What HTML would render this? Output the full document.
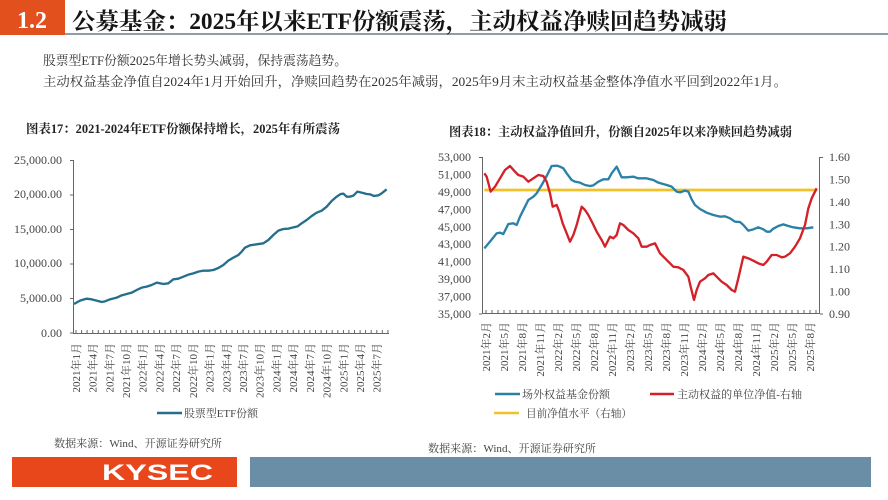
<!DOCTYPE html>
<html><head><meta charset="utf-8"><style>
html,body{margin:0;padding:0;background:#fff;}
svg{display:block;}
.s{font-family:"Liberation Serif","Noto Serif CJK SC",serif;}
</style></head><body>
<svg width="888" height="500" viewBox="0 0 888 500" xmlns="http://www.w3.org/2000/svg" class="s">
<rect x="0" y="0" width="888" height="500" fill="#fff"/>
<!-- header -->
<rect x="0" y="0" width="65" height="35" fill="#e2501e"/>
<text x="17" y="28" font-size="24" font-weight="bold" fill="#fff">1.2</text>
<rect x="65" y="33" width="823" height="2" fill="#8e9ea8"/>
<text x="72" y="29" font-size="23" font-weight="bold" fill="#151515" textLength="655" lengthAdjust="spacingAndGlyphs">公募基金：2025年以来ETF份额震荡，主动权益净赎回趋势减弱</text>
<text x="43" y="65" font-size="13" fill="#333" textLength="304" lengthAdjust="spacingAndGlyphs">股票型ETF份额2025年增长势头减弱，保持震荡趋势。</text>
<text x="43" y="86" font-size="13" fill="#333" textLength="744" lengthAdjust="spacingAndGlyphs">主动权益基金净值自2024年1月开始回升，净赎回趋势在2025年减弱，2025年9月末主动权益基金整体净值水平回到2022年1月。</text>
<text x="26" y="133" font-size="12.3" font-weight="bold" fill="#222" textLength="314" lengthAdjust="spacingAndGlyphs">图表17：2021-2024年ETF份额保持增长，2025年有所震荡</text>
<text x="449" y="136" font-size="12.3" font-weight="bold" fill="#222" textLength="343" lengthAdjust="spacingAndGlyphs">图表18：主动权益净值回升，份额自2025年以来净赎回趋势减弱</text>

<!-- LEFT CHART -->
<g font-size="12" fill="#444" text-anchor="end">
<text x="62" y="164">25,000.00</text>
<text x="62" y="198">20,000.00</text>
<text x="62" y="233">15,000.00</text>
<text x="62" y="267">10,000.00</text>
<text x="62" y="302">5,000.00</text>
<text x="62" y="337">0.00</text>
</g>
<g stroke="#666" stroke-width="1" fill="none">
<path d="M73.5 160 V333.5 H389"/>
<path d="M70 160.5H73 M70 195H73 M70 229.5H73 M70 264H73 M70 298.5H73 M70 333H73"/>
<path id="lt" d="M76 333v-3 M81.6 333v-3 M87.1 333v-3 M92.7 333v-3 M98.3 333v-3 M103.8 333v-3 M109.4 333v-3 M115 333v-3 M120.6 333v-3 M126.1 333v-3 M131.7 333v-3 M137.3 333v-3 M142.8 333v-3 M148.4 333v-3 M154 333v-3 M159.5 333v-3 M165.1 333v-3 M170.7 333v-3 M176.3 333v-3 M181.8 333v-3 M187.4 333v-3 M193 333v-3 M198.5 333v-3 M204.1 333v-3 M209.7 333v-3 M215.2 333v-3 M220.8 333v-3 M226.4 333v-3 M232 333v-3 M237.5 333v-3 M243.1 333v-3 M248.7 333v-3 M254.2 333v-3 M259.8 333v-3 M265.4 333v-3 M270.9 333v-3 M276.5 333v-3 M282.1 333v-3 M287.7 333v-3 M293.2 333v-3 M298.8 333v-3 M304.4 333v-3 M309.9 333v-3 M315.5 333v-3 M321.1 333v-3 M326.6 333v-3 M332.2 333v-3 M337.8 333v-3 M343.4 333v-3 M348.9 333v-3 M354.5 333v-3 M360.1 333v-3 M365.6 333v-3 M371.2 333v-3 M376.8 333v-3 M382.3 333v-3 M387.9 333v-3"/>
</g>
<g transform="translate(0,140) scale(0.33333)">
<polyline fill="none" stroke="#256f8d" stroke-width="7" stroke-linejoin="round" points="222,492 240,482 260,476 275,478 290,482 305,486 315,484 330,478 350,473 365,466 380,462 395,458 410,450 425,443 440,440 455,435 470,428 490,432 505,430 520,418 535,416 550,410 565,404 580,400 595,395 610,392 625,392 640,390 655,384 670,375 685,362 700,353 715,345 725,335 735,323 750,316 770,313 790,310 805,300 820,285 835,272 850,267 865,266 880,262 893,259 905,250 920,240 935,228 950,218 965,212 980,200 995,183 1010,170 1022,162 1030,161 1040,170 1050,170 1060,167 1072,155 1085,158 1100,162 1110,163 1122,168 1135,166 1145,160 1160,148"/>
</g>
<g font-size="11" fill="#444" text-anchor="end">
<text transform="translate(76,343) rotate(-90)" dy="0.35em">2021年1月</text>
<text transform="translate(92.7,343) rotate(-90)" dy="0.35em">2021年4月</text>
<text transform="translate(109.4,343) rotate(-90)" dy="0.35em">2021年7月</text>
<text transform="translate(126.1,343) rotate(-90)" dy="0.35em">2021年10月</text>
<text transform="translate(142.8,343) rotate(-90)" dy="0.35em">2022年1月</text>
<text transform="translate(159.5,343) rotate(-90)" dy="0.35em">2022年4月</text>
<text transform="translate(176.3,343) rotate(-90)" dy="0.35em">2022年7月</text>
<text transform="translate(193,343) rotate(-90)" dy="0.35em">2022年10月</text>
<text transform="translate(209.7,343) rotate(-90)" dy="0.35em">2023年1月</text>
<text transform="translate(226.4,343) rotate(-90)" dy="0.35em">2023年4月</text>
<text transform="translate(243.1,343) rotate(-90)" dy="0.35em">2023年7月</text>
<text transform="translate(259.8,343) rotate(-90)" dy="0.35em">2023年10月</text>
<text transform="translate(276.5,343) rotate(-90)" dy="0.35em">2024年1月</text>
<text transform="translate(293.2,343) rotate(-90)" dy="0.35em">2024年4月</text>
<text transform="translate(309.9,343) rotate(-90)" dy="0.35em">2024年7月</text>
<text transform="translate(326.6,343) rotate(-90)" dy="0.35em">2024年10月</text>
<text transform="translate(343.4,343) rotate(-90)" dy="0.35em">2025年1月</text>
<text transform="translate(360.1,343) rotate(-90)" dy="0.35em">2025年4月</text>
<text transform="translate(376.8,343) rotate(-90)" dy="0.35em">2025年7月</text>
</g>
<line x1="157" y1="413" x2="182" y2="413" stroke="#256f8d" stroke-width="2.5"/>
<text x="184" y="417" font-size="11" fill="#444" textLength="74" lengthAdjust="spacingAndGlyphs">股票型ETF份额</text>
<text x="54" y="447" font-size="11" fill="#444" textLength="168" lengthAdjust="spacingAndGlyphs">数据来源：Wind、开源证券研究所</text>

<!-- RIGHT CHART -->
<g font-size="12" fill="#444" text-anchor="end">
<text x="471" y="161">53,000</text>
<text x="471" y="178.4">51,000</text>
<text x="471" y="195.9">49,000</text>
<text x="471" y="213.3">47,000</text>
<text x="471" y="230.8">45,000</text>
<text x="471" y="248.2">43,000</text>
<text x="471" y="265.7">41,000</text>
<text x="471" y="283.1">39,000</text>
<text x="471" y="300.6">37,000</text>
<text x="471" y="318">35,000</text>
</g>
<g font-size="12" fill="#444">
<text x="829" y="161">1.60</text>
<text x="829" y="183.4">1.50</text>
<text x="829" y="205.9">1.40</text>
<text x="829" y="228.3">1.30</text>
<text x="829" y="250.7">1.20</text>
<text x="829" y="273.1">1.10</text>
<text x="829" y="295.6">1.00</text>
<text x="829" y="318">0.90</text>
</g>
<g stroke="#666" stroke-width="1" fill="none">
<path d="M482.5 157 V313.5 H819.5 V157"/>
<path d="M479 157.5H482 M479 314H482 M820 157.5H823 M820 314H823"/>
<path d="M486 313v-3 M492 313v-3 M498 313v-3 M504 313v-3 M510 313v-3 M516 313v-3 M522 313v-3 M528 313v-3 M534 313v-3 M540 313v-3 M546 313v-3 M552 313v-3 M558 313v-3 M564 313v-3 M570 313v-3 M576 313v-3 M582 313v-3 M588 313v-3 M594 313v-3 M600 313v-3 M606 313v-3 M612 313v-3 M618 313v-3 M624 313v-3 M630 313v-3 M636 313v-3 M642 313v-3 M648 313v-3 M654 313v-3 M660 313v-3 M666 313v-3 M672 313v-3 M678 313v-3 M684 313v-3 M690 313v-3 M696 313v-3 M702 313v-3 M708 313v-3 M714 313v-3 M720 313v-3 M726 313v-3 M732 313v-3 M738 313v-3 M744 313v-3 M750 313v-3 M756 313v-3 M762 313v-3 M768 313v-3 M774 313v-3 M780 313v-3 M786 313v-3 M792 313v-3 M798 313v-3 M804 313v-3 M810 313v-3 M816 313v-3"/>
</g>
<g transform="translate(420,140) scale(0.33333)" fill="none" stroke-linejoin="round">
<line x1="193" y1="150" x2="1192" y2="150" stroke="#f0c22a" stroke-width="8"/>
<polyline stroke="#2a80a6" stroke-width="7" points="193,325 210,305 230,280 240,278 250,282 265,252 280,250 290,255 300,230 315,200 325,180 340,170 350,160 365,135 380,108 395,78 410,77 420,80 430,85 440,100 455,120 465,125 480,128 495,135 510,138 520,136 535,125 550,118 565,118 575,100 590,80 605,112 620,112 640,110 655,115 680,115 700,120 715,128 740,135 755,140 770,155 780,157 795,152 805,155 815,178 825,195 840,207 860,218 880,225 900,230 915,229 930,235 945,245 960,246 970,255 985,272 1000,268 1015,262 1030,268 1040,275 1050,275 1060,266 1075,258 1090,253 1105,258 1120,262 1140,265 1160,265 1180,262"/>
<polyline stroke="#d42028" stroke-width="7" points="193,100 200,110 212,155 225,140 240,115 255,90 270,78 285,95 295,105 310,110 325,125 340,115 355,105 370,108 380,125 390,160 398,200 410,195 418,215 428,250 440,280 450,305 460,285 470,255 485,200 495,210 505,225 518,250 530,275 545,300 555,320 570,290 580,295 590,285 600,250 610,255 625,270 640,280 655,295 665,320 680,320 690,315 705,310 720,340 735,355 750,370 760,380 775,382 790,390 805,410 812,440 822,480 830,450 840,425 855,415 865,405 880,400 890,410 905,425 920,435 935,450 945,455 955,415 970,350 985,355 1000,362 1015,370 1030,375 1040,365 1055,345 1070,345 1085,352 1095,350 1110,340 1125,320 1140,295 1155,255 1165,205 1175,175 1190,145"/>
</g>
<g font-size="11" fill="#444" text-anchor="end">
<text transform="translate(486,322) rotate(-90)" dy="0.35em">2021年2月</text>
<text transform="translate(504,322) rotate(-90)" dy="0.35em">2021年5月</text>
<text transform="translate(522,322) rotate(-90)" dy="0.35em">2021年8月</text>
<text transform="translate(540,322) rotate(-90)" dy="0.35em">2021年11月</text>
<text transform="translate(558,322) rotate(-90)" dy="0.35em">2022年2月</text>
<text transform="translate(576,322) rotate(-90)" dy="0.35em">2022年5月</text>
<text transform="translate(594,322) rotate(-90)" dy="0.35em">2022年8月</text>
<text transform="translate(612,322) rotate(-90)" dy="0.35em">2022年11月</text>
<text transform="translate(630,322) rotate(-90)" dy="0.35em">2023年2月</text>
<text transform="translate(648,322) rotate(-90)" dy="0.35em">2023年5月</text>
<text transform="translate(666,322) rotate(-90)" dy="0.35em">2023年8月</text>
<text transform="translate(684,322) rotate(-90)" dy="0.35em">2023年11月</text>
<text transform="translate(702,322) rotate(-90)" dy="0.35em">2024年2月</text>
<text transform="translate(720,322) rotate(-90)" dy="0.35em">2024年5月</text>
<text transform="translate(738,322) rotate(-90)" dy="0.35em">2024年8月</text>
<text transform="translate(756,322) rotate(-90)" dy="0.35em">2024年11月</text>
<text transform="translate(774,322) rotate(-90)" dy="0.35em">2025年2月</text>
<text transform="translate(792,322) rotate(-90)" dy="0.35em">2025年5月</text>
<text transform="translate(810,322) rotate(-90)" dy="0.35em">2025年8月</text>
</g>
<line x1="495" y1="394" x2="520" y2="394" stroke="#2a80a6" stroke-width="2.5"/>
<text x="522" y="398" font-size="11" fill="#444" textLength="88" lengthAdjust="spacingAndGlyphs">场外权益基金份额</text>
<line x1="650" y1="394" x2="674" y2="394" stroke="#d42028" stroke-width="2.5"/>
<text x="677" y="398" font-size="11" fill="#444" textLength="125" lengthAdjust="spacingAndGlyphs">主动权益的单位净值-右轴</text>
<line x1="494" y1="413" x2="519" y2="413" stroke="#f0c22a" stroke-width="2.5"/>
<text x="526" y="417" font-size="11" fill="#444" textLength="106" lengthAdjust="spacingAndGlyphs">目前净值水平（右轴）</text>
<text x="428" y="452" font-size="11" fill="#444" textLength="168" lengthAdjust="spacingAndGlyphs">数据来源：Wind、开源证券研究所</text>

<!-- footer -->
<rect x="12" y="457" width="225" height="30" fill="#e8461b"/>
<text x="102" y="480" font-family="'Liberation Sans',sans-serif" font-size="22" font-weight="bold" fill="#fff" textLength="111" lengthAdjust="spacingAndGlyphs">KYSEC</text>
<rect x="250" y="457" width="621" height="30" fill="#6a8ea5"/>
</svg>
</body></html>
